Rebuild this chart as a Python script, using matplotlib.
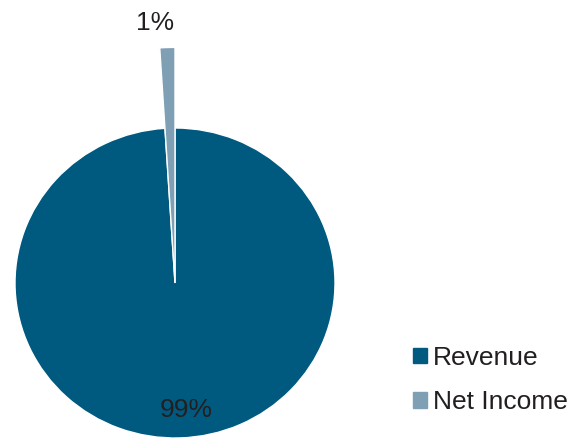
import matplotlib.pyplot as plt
from matplotlib.patches import Patch

plt.rcParams['font.family'] = ['Liberation Sans', 'DejaVu Sans']

# datos
categorias = ["Revenue", "Net Income"]
valores = [99, 1]
colores = ["#005a80", "#7f9fb5"]

fig = plt.figure(figsize=(5.70, 4.47), dpi=100)
ax = fig.add_axes([0, 0, 1, 1])

wedges, textos, pcts = ax.pie(
    valores, colors=colores, startangle=90, counterclock=False,
    autopct='%1.0f%%', pctdistance=0.82,
    wedgeprops=dict(edgecolor='white', linewidth=1.0),
    textprops=dict(fontsize=19, color='#231f20'))

# pie centrado en (175, 283) px, radio ~160 x 155 px
ax.set_xlim(-175 / 160, (570 - 175) / 160)
ax.set_ylim(-(447 - 283) / 155, 283 / 155)
ax.set_aspect('auto')
ax.axis('off')

# la porcion pequeña sobresale hacia arriba
wedges[1].set_radius(1.52)
pcts[1].set_position((-0.125, 1.68))
pcts[0].set_position((0.07, -0.82))

fig.legend(handles=[Patch(color=c, label=l) for c, l in zip(colores, categorias)],
           loc='upper left', bbox_to_anchor=(389 / 570, 1 - 322 / 447),
           frameon=False, fontsize=19, handlelength=0.53, handleheight=0.53,
           handletextpad=0.23, labelspacing=0.78, labelcolor='#231f20')

fig.savefig("out.png", dpi=100)
